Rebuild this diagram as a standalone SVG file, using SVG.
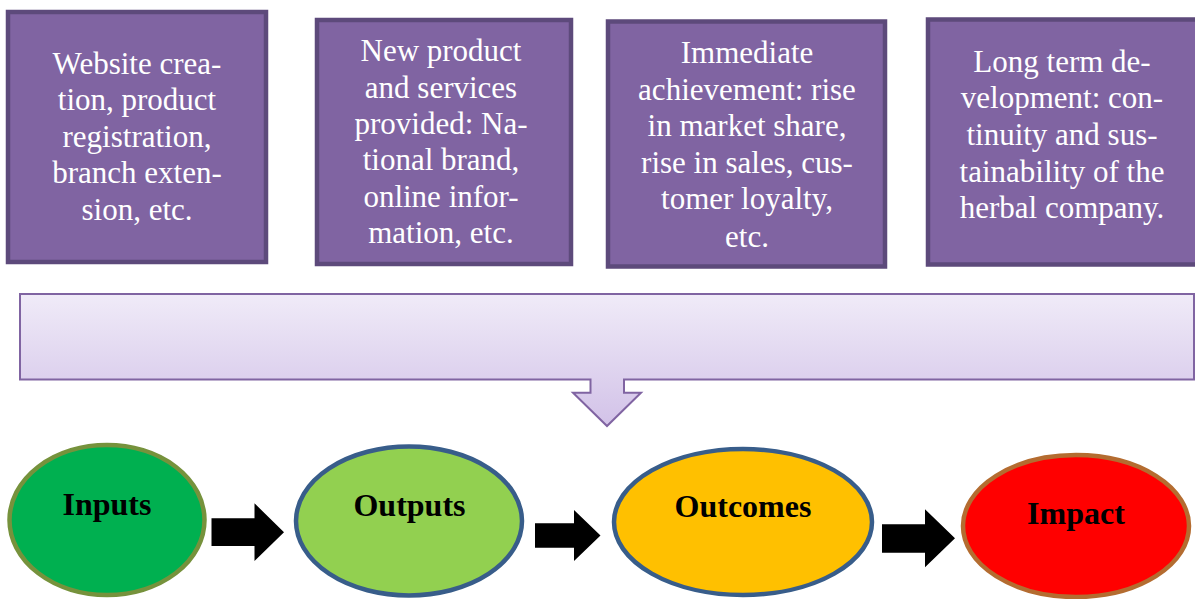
<svg xmlns="http://www.w3.org/2000/svg" width="1195" height="599" viewBox="0 0 1195 599">
<style>
.box{fill:#8064a2;stroke:#5d4a7b;stroke-width:4.5}
.bt{font-family:"Liberation Serif","Times New Roman",serif;font-size:31px;fill:#ffffff;text-anchor:middle}
.et{font-family:"Liberation Serif","Times New Roman",serif;font-size:32px;font-weight:bold;fill:#000000;text-anchor:middle}
.arr{fill:#000000}
</style>
<defs>
<linearGradient id="lav" x1="0" y1="0" x2="0" y2="1">
<stop offset="0" stop-color="#f0ebf8"/>
<stop offset="1" stop-color="#d2c2e8"/>
</linearGradient>
</defs>
<g id="box1">
<rect class="box" x="8" y="12" width="258" height="250"/>
<text class="bt" x="137" y="74">Website crea-</text>
<text class="bt" x="137" y="110">tion, product</text>
<text class="bt" x="137" y="146.5">registration,</text>
<text class="bt" x="137" y="183">branch exten-</text>
<text class="bt" x="137" y="220">sion, etc.</text>
</g>
<g id="box2">
<rect class="box" x="317" y="20" width="254" height="244"/>
<text class="bt" x="441" y="61">New product</text>
<text class="bt" x="441" y="97.5">and services</text>
<text class="bt" x="441" y="133.5">provided: Na-</text>
<text class="bt" x="441" y="170">tional brand,</text>
<text class="bt" x="441" y="206.5">online infor-</text>
<text class="bt" x="441" y="243">mation, etc.</text>
</g>
<g id="box3">
<rect class="box" x="608" y="21.5" width="277" height="245"/>
<text class="bt" x="747" y="63">Immediate</text>
<text class="bt" x="747" y="100">achievement: rise</text>
<text class="bt" x="747" y="136">in market share,</text>
<text class="bt" x="747" y="172.5">rise in sales, cus-</text>
<text class="bt" x="747" y="208.5">tomer loyalty,</text>
<text class="bt" x="747" y="246.5">etc.</text>
</g>
<g id="box4">
<rect class="box" x="928" y="19.5" width="270" height="245"/>
<text class="bt" x="1062" y="71.5">Long term de-</text>
<text class="bt" x="1062" y="108">velopment: con-</text>
<text class="bt" x="1062" y="145">tinuity and sus-</text>
<text class="bt" x="1062" y="181.5">tainability of the</text>
<text class="bt" x="1062" y="218">herbal company.</text>
</g>
<g id="panel">
<path d="M20,294 H1194 V379.5 H624 V392.7 H641 L607,426 L573,392.7 H590.5 V379.5 H20 Z" fill="url(#lav)" stroke="#8064a2" stroke-width="2"/>
</g>
<g id="connectors">
<path class="arr" d="M211.5,518.3 H254.5 V503.3 L284,532.3 L254.5,561 V546 H211.5 Z"/>
<path class="arr" d="M535,523.3 H574 V510 L600.5,535.5 L574,561 V547.7 H535 Z"/>
<path class="arr" d="M882,524.3 H925 V509.3 L955,538.3 L925,567.3 V552.7 H882 Z"/>
</g>
<g id="inputs">
<ellipse cx="107" cy="520" rx="97.5" ry="75" fill="#00b050" stroke="#76923c" stroke-width="4.5"/>
<text class="et" x="107" y="515">Inputs</text>
</g>
<g id="outputs">
<ellipse cx="409" cy="521" rx="113" ry="74.5" fill="#92d050" stroke="#385d8a" stroke-width="4.5"/>
<text class="et" x="409.5" y="516">Outputs</text>
</g>
<g id="outcomes">
<ellipse cx="743" cy="522" rx="129" ry="73" fill="#ffc000" stroke="#385d8a" stroke-width="4.5"/>
<text class="et" x="743" y="516.5">Outcomes</text>
</g>
<g id="impact">
<ellipse cx="1076" cy="526" rx="113" ry="71" fill="#ff0000" stroke="#b46c30" stroke-width="4.5"/>
<text class="et" x="1076" y="524">Impact</text>
</g>
</svg>
